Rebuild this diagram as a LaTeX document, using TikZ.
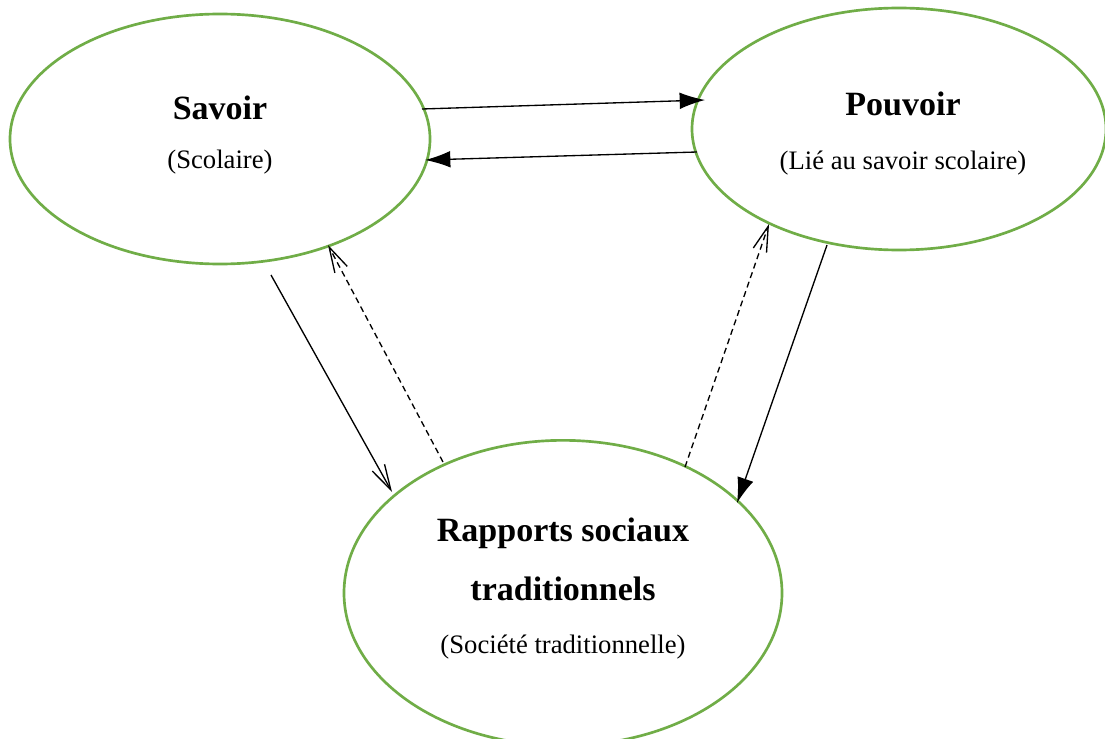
\documentclass[tikz,border=0pt]{standalone}
\usepackage{fontspec}
\setmainfont{Liberation Serif}
\usetikzlibrary{shapes.geometric,arrows.meta}
\definecolor{ellgreen}{HTML}{70AD47}
\tikzset{
  ell/.style={ellipse, draw=ellgreen, line width=2pt, inner sep=0pt},
  title/.style={anchor=base, inner sep=0pt, font=\fontsize{25.5}{30}\selectfont\bfseries},
  sub/.style={anchor=base, inner sep=0pt, font=\fontsize{20}{24}\selectfont},
  solidarrow/.style={line width=1pt, -{Latex[length=19pt,width=12.5pt]}},
  openarrow/.style={line width=1pt, -{Straight Barb[length=19pt,width=10.5pt]}},
  dasharrow/.style={line width=1pt, dash pattern=on 4.5pt off 3pt, -{Straight Barb[length=19pt,width=10.5pt]}}
}
\begin{document}
\begin{tikzpicture}[x=0.75pt,y=-0.75pt]
\useasboundingbox (0,0) rectangle (1105,738);
\clip (0,0) rectangle (1105,738);
\fill[white] (0,0) rectangle (1105,738);
% ellipses
\node[ell, minimum width=315pt, minimum height=187.5pt] (sav) at (220,139) {};
\node[ell, minimum width=310.5pt, minimum height=181.5pt] (pou) at (899,129) {};
\node[ell, minimum width=328.5pt, minimum height=229pt] (rap) at (563,593) {};
% texts
\node[title] (savt) at (220,120) {Savoir};
\node[sub] (savs) at (220,168) {(Scolaire)};
\node[title] (pout) at (903,116) {Pouvoir};
\node[sub] (pous) at (903,169) {(Lié au savoir scolaire)};
\node[title] (rapt1) at (563,541) {Rapports sociaux};
\node[title] (rapt2) at (563,600) {traditionnels};
\node[sub] (raps) at (563,653) {(Société traditionnelle)};
% connector end points
\coordinate (a1s) at (422,109); \coordinate (a1e) at (705,100);
\coordinate (a2s) at (697,152); \coordinate (a2e) at (425,160);
\coordinate (a3s) at (271,275); \coordinate (a3e) at (392,492);
\coordinate (a4s) at (443,462); \coordinate (a4e) at (328,245);
\coordinate (a5s) at (685,467); \coordinate (a5e) at (769,224);
\coordinate (a6s) at (827,245); \coordinate (a6e) at (737,503);
% connectors
\draw[solidarrow] (a1s) -- (a1e);
\draw[solidarrow] (a2s) -- (a2e);
\draw[openarrow] (a3s) -- (a3e);
\draw[dasharrow] (a4s) -- (a4e);
\draw[dasharrow] (a5s) -- (a5e);
\draw[solidarrow] (a6s) -- (a6e);
\end{tikzpicture}
\end{document}
